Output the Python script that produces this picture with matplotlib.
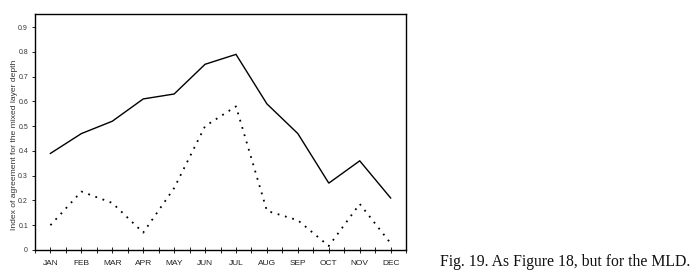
import matplotlib
matplotlib.use("Agg")
import matplotlib.pyplot as plt
import numpy as np

months = ["JAN", "FEB", "MAR", "APR", "MAY", "JUN", "JUL", "AUG", "SEP", "OCT", "NOV", "DEC"]
solid_vals = [0.39, 0.47, 0.52, 0.61, 0.63, 0.75, 0.79, 0.59, 0.47, 0.27, 0.36, 0.21]
dotted_vals = [0.10, 0.236, 0.19, 0.07, 0.25, 0.50, 0.58, 0.158, 0.12, 0.016, 0.186, 0.027]
yticks = [0, 0.1, 0.2, 0.3, 0.4, 0.5, 0.6, 0.7, 0.8, 0.9]
ytick_labels = ["0", "0.1", "0.2", "0.3", "0.4", "0.5", "0.6", "0.7", "0.8", "0.9"]

plt.rcParams['font.family'] = ['Liberation Sans', 'DejaVu Sans']

fig = plt.figure(figsize=(6.99, 2.75), dpi=100)
ax = fig.add_axes([0.050, 0.091, 0.531, 0.858])

x = np.arange(len(months))
ax.plot(x, solid_vals, color='black', lw=1.0, solid_joinstyle='miter')
ax.plot(x, dotted_vals, color='black', lw=1.3, linestyle=(0, (1, 3.2)))

ax.set_xlim(-0.5, 11.47)
ax.set_ylim(0, 0.953)
ax.set_xticks(x)
ax.set_xticklabels(months, fontsize=6.0, color='#222222')
ax.set_xticks(np.arange(-0.5, 11.6, 1.0), minor=True)
ax.set_yticks(yticks)
ax.set_yticklabels(ytick_labels, fontsize=5.0, color='#333333')
ax.tick_params(axis='x', which='major', direction='inout', length=4, width=0.6, pad=5)
ax.tick_params(axis='x', which='minor', direction='inout', length=4, width=0.6)
ax.tick_params(axis='y', direction='out', length=2.5, width=0.6, pad=2.5)
for s in ax.spines.values():
    s.set_linewidth(1.0)
ax.set_ylabel("Index of agreement for the mixed layer depth", fontsize=6.1, color='#333333')
ax.yaxis.set_label_coords(-0.047, 0.445)

fig.text(0.630, 0.047, "Fig. 19. As Figure 18, but for the MLD.",
         fontsize=11.3, family='Liberation Serif', color='#111111', ha='left', va='center')

fig.savefig("out.png", dpi=100)
